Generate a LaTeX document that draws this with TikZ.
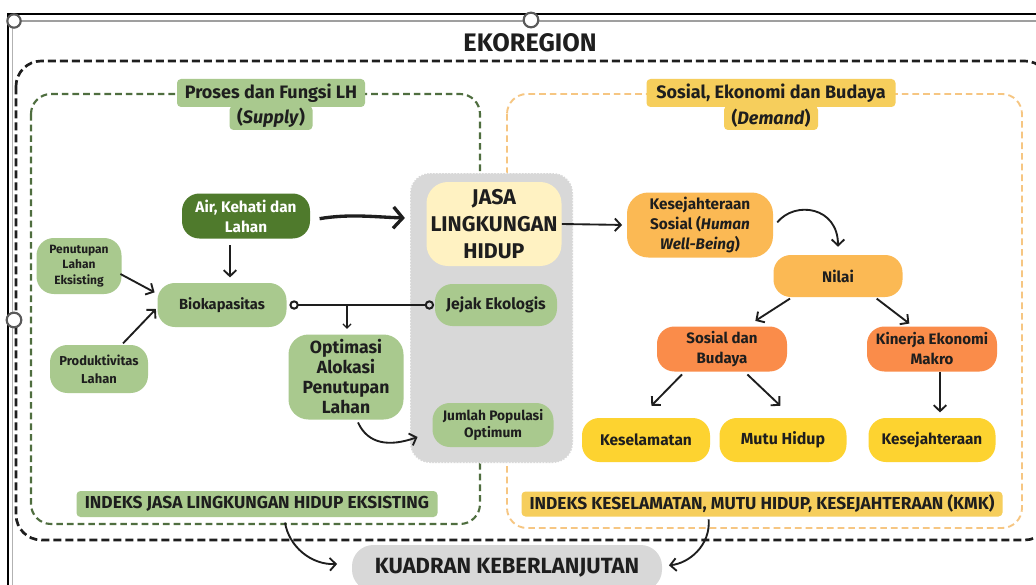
\documentclass[tikz,border=0pt]{standalone}
\usepackage{fontspec}
\setmainfont{Fira Sans}
\usetikzlibrary{arrows.meta}

\definecolor{ink}{HTML}{1E1E1E}
\definecolor{lgreen}{HTML}{A9C98E}
\definecolor{dkgreen}{HTML}{4F7A2C}
\definecolor{dgreen}{HTML}{4F6E3F}
\definecolor{dorange}{HTML}{F6C682}
\definecolor{gold}{HTML}{F6CE5C}
\definecolor{paleyel}{HTML}{FFF2C2}
\definecolor{amber}{HTML}{FBB954}
\definecolor{tangerine}{HTML}{FA8C4A}
\definecolor{sun}{HTML}{FDD330}
\definecolor{region}{HTML}{D8D8D8}
\definecolor{handle}{HTML}{5A5A5A}

\newcommand\myfs[2]{\fontsize{#1}{#2}\selectfont\bfseries}

\tikzset{
  wd/.style={minimum width=#1*0.75pt},
  ht/.style={minimum height=#1*0.75pt},
  pill/.style={rounded corners=13pt, inner sep=1pt, align=center, text=ink},
  hdr/.style={rounded corners=3pt, inner sep=1pt, align=center, text=ink, font=\myfs{13.5}{16}},
  arr/.style={draw=ink, line width=1.4pt, -{Straight Barb[length=4.5pt,width=9.5pt]}},
  bigarr/.style={draw=ink, line width=2.5pt, -{Straight Barb[length=7pt,width=16pt]}},
  smallarr/.style={draw=ink, line width=1pt, -{Straight Barb[length=3pt,width=6pt]}},
  handlecirc/.style={draw=handle, line width=1.6pt, fill=white},
}

\begin{document}
\begin{tikzpicture}[x=0.75pt, y=-0.75pt]
\clip (0,0) rectangle (1036,585);
\fill[white] (0,0) rectangle (1036,585);

% editor frame around the canvas
\draw[line width=2.2pt, black] (8,14) -- (1040,14);
\draw[line width=1.3pt, gray!75] (14,21) -- (1040,21);
\draw[line width=2.2pt, black] (8,13) -- (8,590);
\draw[line width=0.7pt, gray!60] (12,21) -- (12,590);

% ecoregion boundary
\draw[ink, line width=2pt, dash pattern=on 6pt off 3pt, rounded corners=19pt]
  (16,61) rectangle (1050,540);

% supply and demand regions
\draw[dgreen, line width=1.6pt, dash pattern=on 5pt off 3pt, rounded corners=15pt]
  (31,94) rectangle (480,524);
\draw[dorange, line width=1.4pt, dash pattern=on 5pt off 3pt, rounded corners=15pt]
  (507,94) rectangle (1022,528);

% central band of environmental services
\fill[region, rounded corners=15pt] (410,173) rectangle (573,463);
\draw[white, line width=1pt, dash pattern=on 1pt off 1.3pt, rounded corners=15pt]
  (410,173) rectangle (573,463);

% title
\node[font=\myfs{19}{22}, text=ink] (title) at (530,43) {EKOREGION};

% region headers
\node[hdr, fill=lgreen, wd=188, ht=28] (supA) at (271,93) {Proses dan Fungsi LH};
\node[hdr, fill=lgreen, wd=83, ht=24] (supB) at (271,118) {(\textit{Supply})};
\node[hdr, fill=gold, wd=249, ht=28] (demA) at (771,93) {Sosial, Ekonomi dan Budaya};
\node[hdr, fill=gold, wd=94, ht=24] (demB) at (771,118) {(\textit{Demand})};

% supply side
\node[pill, fill=dkgreen, text=white, wd=128, ht=45, font=\myfs{11.5}{15}] (air) at (246,216) {Air, Kehati dan\\Lahan};
\node[pill, fill=lgreen, wd=85, ht=56, font=\myfs{9}{11.6}] (pen) at (79,266) {Penutupan\\Lahan\\Eksisting};
\node[pill, fill=lgreen, wd=98, ht=48, font=\myfs{9.7}{13.5}] (prod) at (99,369) {Produktivitas\\Lahan};
\node[pill, fill=lgreen, wd=129, ht=44, font=\myfs{11}{13}] (bio) at (222,305) {Biokapasitas};
\node[pill, rounded corners=15pt, fill=lgreen, wd=115, ht=85, font=\myfs{13.2}{15}] (opt) at (346,377) {Optimasi\\Alokasi\\Penutupan\\Lahan};

% environmental services
\node[pill, rounded corners=16pt, fill=paleyel, wd=135, ht=84, font=\myfs{16}{20}] (jasa) at (494,224) {JASA\\LINGKUNGAN\\HIDUP};
\node[pill, fill=lgreen, wd=122, ht=42, font=\myfs{11.8}{14}] (jejak) at (496,305) {Jejak Ekologis};
\node[pill, fill=lgreen, wd=121, ht=44, font=\myfs{10.3}{12.7}] (jum) at (493,425) {Jumlah Populasi\\Optimum};

% demand side
\node[pill, rounded corners=16pt, fill=amber, wd=146, ht=65, font=\myfs{11.5}{15}] (ks) at (700,225) {Kesejahteraan\\Sosial (\textit{Human}\\\textit{Well-Being})};
\node[pill, fill=amber, wd=129, ht=42, font=\myfs{11.5}{14}] (nilai) at (838,276) {Nilai};
\node[pill, fill=tangerine, wd=130, ht=45, font=\myfs{11.3}{15}] (sdb) at (722,349) {Sosial dan\\Budaya};
\node[pill, fill=tangerine, wd=130, ht=45, font=\myfs{11.3}{15}] (kin) at (932,349) {Kinerja Ekonomi\\Makro};
\node[pill, fill=sun, wd=128, ht=44, font=\myfs{11.6}{14}] (kes) at (646,440) {Keselamatan};
\node[pill, fill=sun, wd=127, ht=44, font=\myfs{12}{14}] (mutu) at (783,440) {Mutu Hidup};
\node[pill, fill=sun, wd=127, ht=44, font=\myfs{11.5}{14}] (kesej) at (932,440) {Kesejahteraan};

% indices and outcome
\node[hdr, fill=lgreen, wd=361, ht=26, font=\myfs{13}{15}] (ij) at (257,504) {INDEKS JASA LINGKUNGAN HIDUP EKSISTING};
\node[hdr, fill=gold, wd=481, ht=25, font=\myfs{13}{15}] (ik) at (762,504) {INDEKS KESELAMATAN, MUTU HIDUP, KESEJAHTERAAN (KMK)};
\node[pill, rounded corners=16pt, fill=region, wd=310, ht=46, font=\myfs{16.5}{19}] (kuad) at (507,568) {KUADRAN KEBERLANJUTAN};

% connectors, supply side
\draw[bigarr] ([xshift=7pt,yshift=-2pt]air.east) .. controls +(30,-5) and +(-30,-1) .. ([xshift=-16pt,yshift=4.5pt]jasa.west);
\draw[arr] ([xshift=-12pt,yshift=-5pt]air.south) -- ([xshift=-12pt,yshift=4pt]air.south |- bio.north);
\draw[arr] ([xshift=-1pt,yshift=-6pt]pen.east) -- ([xshift=-2pt,yshift=9.5pt]bio.west);
\draw[arr] ([xshift=18pt,yshift=1pt]prod.north) -- ([xshift=-1pt,yshift=-3pt]bio.west);
\draw[ink, line width=1.5pt, {Circle[open,length=7pt]}-{Circle[open,length=7pt]}]
  ([xshift=2pt]bio.east) -- ([xshift=-0.5pt]jejak.west);
\coordinate (split) at (347,305);
\draw[smallarr, shorten >=4pt] (split) -- (split |- opt.north);
\draw[arr] ([xshift=9pt,yshift=-2pt]opt.south) .. controls +(10,22) and +(-28,10) .. ([xshift=-11pt,yshift=-9pt]jum.west);

% connectors, demand side
\draw[arr, shorten >=3.5pt] (jasa.east) -- (ks.west);
\draw[arr] ([xshift=3pt,yshift=2pt]ks.east) .. controls +(18,-22) and +(0,-40) .. ([yshift=6pt]nilai.north);
\draw[arr] ([xshift=-36pt,yshift=-1pt]nilai.south) -- ([xshift=25pt,yshift=4pt]sdb.north);
\draw[arr] ([xshift=29pt,yshift=-1pt]nilai.south) -- ([xshift=-17pt,yshift=2pt]kin.north);
\draw[arr] ([xshift=-30pt,yshift=-2pt]sdb.south) -- ([xshift=4pt,yshift=9pt]kes.north);
\draw[arr] ([xshift=19pt,yshift=-2pt]sdb.south) -- ([xshift=-2pt,yshift=9pt]mutu.north);
\draw[arr] ([xshift=6pt]kin.south) -- ([xshift=6pt,yshift=4pt]kesej.north);

% connectors to the sustainability quadrant
\draw[arr] ([xshift=21pt,yshift=-4pt]ij.south) .. controls +(4,24) and +(-26,1) .. ([xshift=-11pt,yshift=3pt]kuad.west);
\draw[arr] ([xshift=-40pt,yshift=-2pt]ik.south) .. controls +(2,26) and +(20,-2) .. ([xshift=5pt,yshift=2pt]kuad.east);

% selection handles
\draw[handlecirc] (14,21) circle[radius=5pt];
\draw[handlecirc] (531,20) circle[radius=5.5pt];
\draw[handlecirc] (14,320) circle[radius=5.5pt];
\end{tikzpicture}
\end{document}
